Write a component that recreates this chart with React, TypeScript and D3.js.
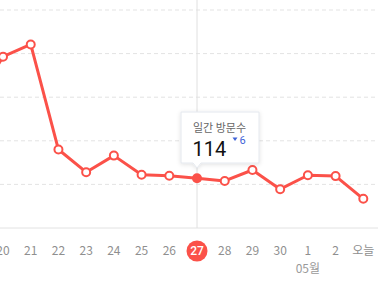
import React, { useEffect } from "react";
import * as d3 from "d3";

const days = ["19", "20", "21", "22", "23", "24", "25", "26", "27", "28", "29", "30", "1", "2", "오늘"];
const visits = [290, 393, 421, 180, 128, 166, 122, 120, 114, 108, 133, 89, 121, 119, 67];
const gridTicks = [100, 200, 300, 400, 500];
const activeDay = "27";
const monthLabel = "05월";
const monthAtDay = "1";
const tooltipTitle = "일간 방문수";

const W = 391;
const H = 287;
const RED = "#fb5149";

export default function App() {
  useEffect(() => {
    document.body.style.margin = "0";
  }, []);

  const x = d3.scalePoint<string>().domain(days).range([3 - 27.7, 363.3]);
  const y = d3.scaleLinear().domain([0, 500]).range([228, 10]);

  const line = d3
    .line<number>()
    .x((_, i) => x(days[i]) as number)
    .y((d) => y(d));

  const ai = days.indexOf(activeDay);
  const ax = x(activeDay) as number;
  const av = visits[ai];
  const diff = av - visits[ai - 1];

  const tipL = ax - 16;
  const tipT = 112;
  const tipW = 78;
  const tipH = 51;

  const font = "Roboto, 'Noto Sans CJK KR', sans-serif";

  return (
    <svg width={W} height={H} style={{ display: "block", position: "absolute", left: 0, top: 0 }} fontFamily={font}>
      <defs>
        <filter id="sh" x="-20%" y="-20%" width="140%" height="150%">
          <feDropShadow dx="0" dy="1" stdDeviation="2" floodColor="#000" floodOpacity="0.12" />
        </filter>
      </defs>
      {gridTicks.map((t) => (
        <line key={t} x1={0} x2={378} y1={y(t)} y2={y(t)} stroke="#e3e3e3" strokeWidth={1} strokeDasharray="4 3" />
      ))}
      <line x1={0} x2={378} y1={y(0)} y2={y(0)} stroke="#e2e2e2" strokeWidth={1} />
      <line x1={ax} x2={ax} y1={0} y2={y(0)} stroke="#e0e0e0" strokeWidth={1} />
      <path d={line(visits) || ""} fill="none" stroke={RED} strokeWidth={3} strokeLinejoin="round" />
      {visits.map((v, i) =>
        i === ai ? (
          <circle key={i} cx={x(days[i])} cy={y(v)} r={5} fill={RED} />
        ) : (
          <circle key={i} cx={x(days[i])} cy={y(v)} r={4} fill="#fff" stroke={RED} strokeWidth={2} />
        )
      )}
      {days.slice(1).map((d) => {
        const cx = x(d) as number;
        if (d === activeDay) {
          return (
            <g key={d}>
              <circle cx={cx} cy={251} r={10.5} fill={RED} />
              <text x={cx} y={255} textAnchor="middle" fontSize={12} fill="#fff" fontWeight={500}>
                {d}
              </text>
            </g>
          );
        }
        return (
          <text key={d} x={cx} y={255} textAnchor="middle" fontSize={12} fill="#8f8f8f" fontFamily="'Noto Sans CJK KR', Roboto, sans-serif">
            {d}
          </text>
        );
      })}
      <text x={x(monthAtDay) as number} y={272.5} textAnchor="middle" fontSize={12} fill="#9a9a9a" fontFamily="'Noto Sans CJK KR', sans-serif">
        {monthLabel}
      </text>
      <g filter="url(#sh)">
        <path
          d={`M${tipL},${tipT} h${tipW} v${tipH} H${ax + 4} l-4,5 l-4,-5 H${tipL} Z`}
          fill="#fff"
          stroke="#e4e8ee"
          strokeWidth={1}
        />
      </g>
      <text x={tipL + 12} y={132} fontSize={11} fill="#666" fontFamily="'Noto Sans CJK KR', sans-serif">
        {tooltipTitle}
      </text>
      <text x={tipL + 11.5} y={155.5} fontSize={20} fill="#111">
        {av}
      </text>
      <path d={`M${tipL + 51.5},${137.5} l5,0 l-2.5,3.5 Z`} fill="#3f63d8" />
      <text x={tipL + 58.5} y={143.5} fontSize={11} fill="#3f63d8">
        {Math.abs(diff)}
      </text>
    </svg>
  );
}
